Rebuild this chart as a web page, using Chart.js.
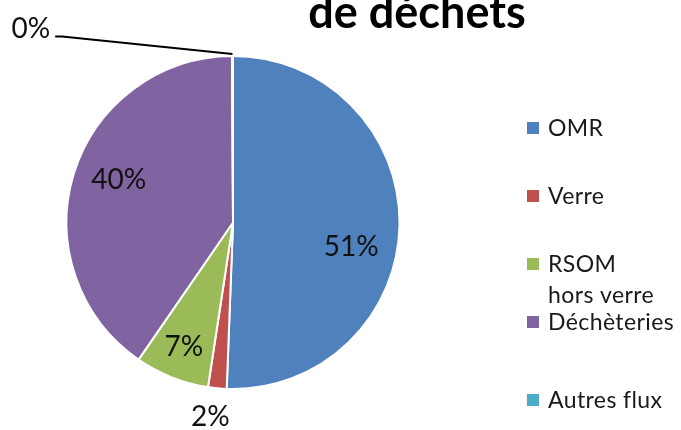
<!DOCTYPE html>
<html lang="fr">
<head>
<meta charset="utf-8">
<title>Répartition des flux de déchets</title>
<script src="https://cdn.jsdelivr.net/npm/chart.js@4.4.1/dist/chart.umd.min.js"></script>
<style>
  html, body { margin: 0; padding: 0; background: #ffffff; }
  #wrap { position: relative; width: 681px; height: 430px; }
</style>
</head>
<body>
<div id="wrap"><canvas id="pie" width="681" height="430"></canvas></div>
<script>
// Flux de déchets (part du tonnage total, en %)
const categories = ['OMR', 'Verre', 'RSOM hors verre', 'Déchèteries', 'Autres flux'];
const legendLines = [['OMR'], ['Verre'], ['RSOM', 'hors verre'], ['Déchèteries'], ['Autres flux']];
const shares = [50.6, 1.8, 7.2, 40.3, 0.1];
const sliceColors = ['#4F81BD', '#C0504D', '#9BBB59', '#8064A2', '#4BACC6'];
const titleText = 'de déchets';

const DEG = Math.PI / 180;

// Percentage labels, placed around each slice's mid angle
const sliceLabels = {
  id: 'sliceLabels',
  afterDatasetsDraw(chart, args, opts) {
    const ctx = chart.ctx;
    const meta = chart.getDatasetMeta(0);
    const values = chart.data.datasets[0].data;
    ctx.save();
    ctx.font = opts.font;
    ctx.fillStyle = opts.color;
    ctx.textAlign = 'center';
    ctx.textBaseline = 'alphabetic';
    meta.data.forEach((arc, i) => {
      const p = arc.getProps(['x', 'y', 'startAngle', 'endAngle', 'outerRadius'], true);
      const place = opts.placement[i];
      const mid = (p.startAngle + p.endAngle) / 2;
      const a = mid + place.shift * DEG;
      const r = p.outerRadius * place.ratio;
      const tx = p.x + Math.cos(a) * r;
      const ty = p.y + Math.sin(a) * r;
      const text = Math.round(values[i]) + '%';
      ctx.fillText(text, tx, ty + opts.capHalf);
      if (place.leader) {
        const w = ctx.measureText(text).width;
        const ex = p.x + Math.cos(mid) * p.outerRadius;
        const ey = p.y + Math.sin(mid) * p.outerRadius;
        ctx.beginPath();
        ctx.strokeStyle = opts.leaderColor;
        ctx.lineWidth = 2;
        ctx.moveTo(tx + w / 2 + 5, ty + 8);
        ctx.lineTo(tx + w / 2 + 12, ty + 8);
        ctx.lineTo(ex, ey - 2);
        ctx.stroke();
      }
    });
    ctx.restore();
  }
};

// Legend with square swatches, one row per text line
const sideLegend = {
  id: 'sideLegend',
  afterDraw(chart, args, opts) {
    const ctx = chart.ctx;
    const bg = chart.data.datasets[0].backgroundColor;
    ctx.save();
    ctx.font = opts.font;
    ctx.letterSpacing = opts.spacing;
    ctx.textAlign = 'left';
    ctx.textBaseline = 'alphabetic';
    legendLines.forEach((lines, i) => {
      const rows = opts.baselines[i];
      ctx.fillStyle = bg[i];
      ctx.fillRect(opts.boxX, rows[0] - 14, opts.box, opts.box);
      ctx.fillStyle = opts.color;
      lines.forEach((line, j) => ctx.fillText(line, opts.textX, rows[j]));
    });
    ctx.restore();
  }
};

// Chart title (upper line lies outside the drawing area)
const topTitle = {
  id: 'topTitle',
  afterDraw(chart, args, opts) {
    const ctx = chart.ctx;
    ctx.save();
    ctx.font = opts.font;
    ctx.fillStyle = opts.color;
    ctx.textAlign = 'center';
    ctx.textBaseline = 'alphabetic';
    ctx.fillText(opts.text, opts.x, opts.y);
    ctx.restore();
  }
};

new Chart(document.getElementById('pie'), {
  type: 'pie',
  data: {
    labels: categories,
    datasets: [{
      data: shares,
      backgroundColor: sliceColors,
      borderColor: '#ffffff',
      borderWidth: 2
    }]
  },
  options: {
    responsive: false,
    animation: false,
    events: [],
    layout: { padding: { left: 65.5, right: 280.5, top: 55, bottom: 40 } },
    plugins: {
      legend: { display: false },
      tooltip: { enabled: false },
      title: { display: false },
      sliceLabels: {
        font: '28px Lato',
        color: '#111111',
        leaderColor: '#000000',
        capHalf: 10,
        placement: [
          { shift: 10.2, ratio: 0.724 },
          { shift: 1.3, ratio: 1.171 },
          { shift: 0, ratio: 0.80 },
          { shift: 3.6, ratio: 0.733 },
          { shift: -46, ratio: 1.683, leader: true }
        ]
      },
      sideLegend: {
        font: '23px Lato',
        spacing: '0.4px',
        color: '#1a1a1a',
        boxX: 527,
        box: 12,
        textX: 548,
        baselines: [[136], [204], [272, 303], [330], [408]]
      },
      topTitle: {
        text: titleText,
        font: 'bold 45px Lato',
        color: '#000000',
        x: 417,
        y: 28
      }
    }
  },
  plugins: [sliceLabels, sideLegend, topTitle]
});
</script>
</body>
</html>
